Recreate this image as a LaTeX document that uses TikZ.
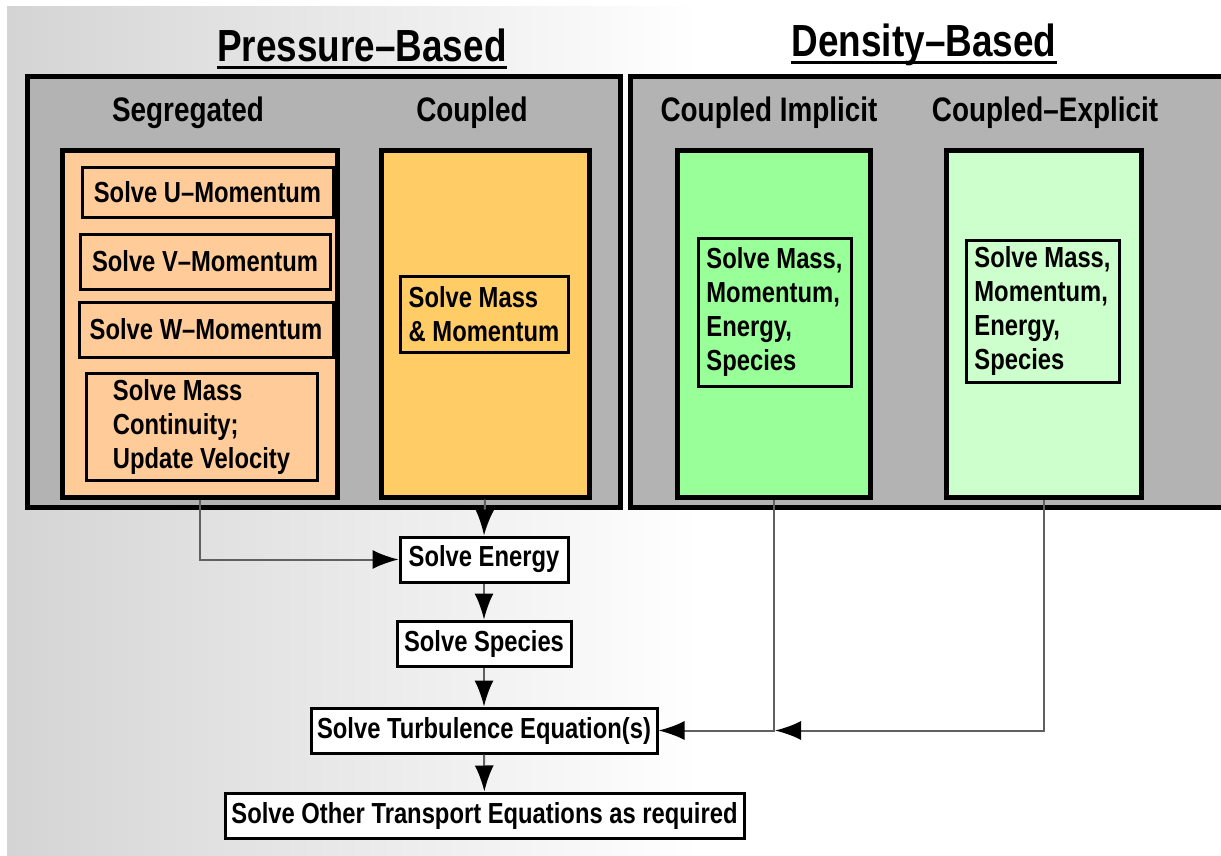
\documentclass[tikz,border=0pt]{standalone}
\usepackage{fontspec}
\newfontfamily\chartfont{Liberation Sans}[FakeStretch=0.82,Ligatures=TeX]
\usetikzlibrary{arrows.meta}
\definecolor{panelgray}{HTML}{B3B3B3}
\definecolor{segfill}{HTML}{FFCC99}
\definecolor{coupfill}{HTML}{FFCC66}
\definecolor{implfill}{HTML}{99FF99}
\definecolor{explfill}{HTML}{CCFFCC}
\definecolor{linkgray}{HTML}{606060}
\definecolor{bgleft}{HTML}{D4D4D4}

\begin{document}
\begin{tikzpicture}[x=0.5pt,y=-0.5pt,
  font=\chartfont\bfseries\fontsize{14.5}{17}\selectfont,
  title/.style={font=\chartfont\bfseries\fontsize{22.5}{26}\selectfont,inner sep=0pt},
  head/.style={font=\chartfont\bfseries\fontsize{17}{20}\selectfont},
  panel/.style={draw,line width=2.5pt,fill=panelgray,inner sep=0pt,minimum height=215pt},
  column/.style={draw,line width=2.5pt,inner sep=0pt,minimum height=173pt},
  sub/.style={draw,line width=1.5pt,inner sep=2pt,align=left},
  task/.style={draw,line width=1.5pt,fill=white,inner sep=2pt,minimum height=22.5pt},
  flow/.style={draw=linkgray,line width=1pt,-{Latex[length=13pt,width=9.5pt,color=black]}}]
  \useasboundingbox (0,0) rectangle (1221,856);
  \fill[white] (0,0) rectangle (1221,856);
  \shade[left color=bgleft,right color=white] (7,7) rectangle (700,856);

  % the two solver families
  \node[title] (ptitle) at (362,45) {Pressure--Based};
  \node[title] (dtitle) at (924,45) {Density--Based};
  \draw[line width=1.5pt] ([yshift=-3pt]ptitle.base west) -- ([yshift=-3pt]ptitle.base east);
  \draw[line width=1.5pt] ([yshift=-3pt]dtitle.base west) -- ([yshift=-3pt]dtitle.base east);

  \node[panel,minimum width=296.5pt] (pbox) at (323.5,292) {};
  \node[panel,minimum width=298pt] (dbox) at (928,292) {};

  \node[head] (hseg)  at (188,113)  {Segregated};
  \node[head] (hcoup) at (472,113)  {Coupled};
  \node[head] (himpl) at (769,113)  {Coupled Implicit};
  \node[head] (hexpl) at (1045,113) {Coupled--Explicit};

  % columns
  \node[column,fill=segfill,minimum width=137.5pt]  (seg)  at (199.5,324)  {};
  \node[column,fill=coupfill,minimum width=104pt]   (coup) at (485,324)    {};
  \node[column,fill=implfill,minimum width=96.5pt]  (impl) at (773.5,324)  {};
  \node[column,fill=explfill,minimum width=97.5pt]  (expl) at (1043.5,324) {};

  % segregated steps
  \node[sub,minimum width=125.5pt,minimum height=24.5pt] (umom) at (207.5,192.5) {Solve U--Momentum};
  \node[sub,minimum width=125pt,minimum height=27.5pt]   (vmom) at (205,261.5)   {Solve V--Momentum};
  \node[sub,minimum width=127pt,minimum height=27.5pt]   (wmom) at (206,329.5)   {Solve W--Momentum};
  \node[sub,minimum width=115.5pt,minimum height=53.5pt] (mass) at (201.5,426.5)
    {Solve Mass\\Continuity;\\Update Velocity};

  % coupled steps
  \node[sub,minimum width=84pt,minimum height=38pt]   (cmass) at (484,314)    {Solve Mass\\\& Momentum};
  \node[sub,minimum width=76.5pt,minimum height=74pt] (imass) at (774.5,312)  {Solve Mass,\\Momentum,\\Energy,\\Species};
  \node[sub,minimum width=76.5pt,minimum height=71pt] (emass) at (1042.5,311) {Solve Mass,\\Momentum,\\Energy,\\Species};

  % common sequence
  \node[task,minimum width=84pt]    (energy)  at (484,559.5) {Solve Energy};
  \node[task,minimum width=87pt]    (species) at (484,643.5) {Solve Species};
  \node[task,minimum width=173pt]   (turb)    at (484,730.5) {Solve Turbulence Equation(s)};
  \node[task,minimum width=259.5pt] (other)   at (484.5,815.5) {Solve Other Transport Equations as required};

  \coordinate (join) at (775,730.5);

  \draw[flow] (seg.south) |- (energy.west);
  \draw[flow] (coup.south) -- (energy.north);
  \draw[flow] (energy) -- (species);
  \draw[flow] (species) -- (turb);
  \draw[flow] (turb) -- (other);
  \draw[flow] (impl.south) |- (turb.east);
  \draw[flow] (expl.south) |- (join);
\end{tikzpicture}
\end{document}
